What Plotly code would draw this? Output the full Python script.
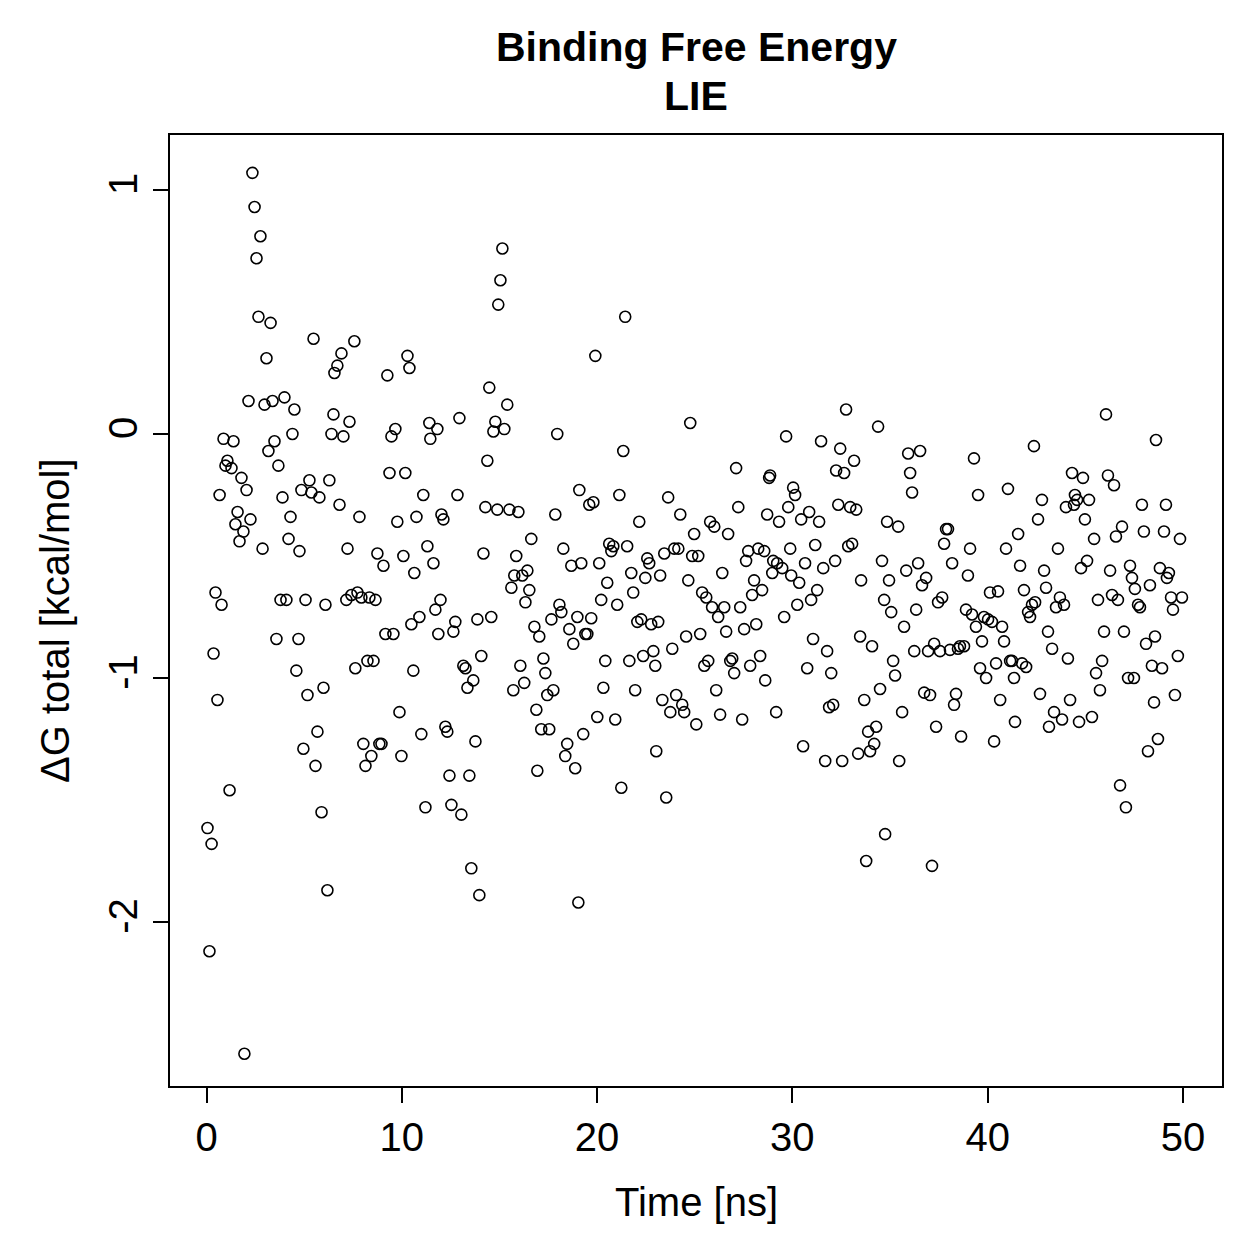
import plotly.graph_objects as go

time_ns = [0.05,0.15,0.26,0.36,0.46,0.56,0.67,0.77,0.87,0.97,1.07,1.18,1.28,1.38,1.48,1.59,1.69,1.79,1.89,1.94,
2.05,2.15,2.25,2.35,2.46,2.56,2.66,2.76,2.87,2.97,3.07,3.17,3.28,3.38,3.48,3.58,3.68,3.79,3.89,3.99,
4.09,4.20,4.30,4.40,4.50,4.60,4.71,4.76,4.86,4.96,5.07,5.17,5.27,5.37,5.48,5.58,5.68,5.78,5.89,5.99,
6.09,6.19,6.29,6.40,6.50,6.55,6.70,6.81,6.91,7.01,7.16,7.22,7.32,7.42,7.57,7.62,7.73,7.83,7.93,8.03,
8.14,8.24,8.34,8.44,8.55,8.65,8.75,8.85,8.96,9.06,9.16,9.26,9.37,9.47,9.57,9.67,9.77,9.88,9.98,10.08,
10.18,10.29,10.39,10.49,10.59,10.64,10.75,10.90,11.00,11.10,11.21,11.31,11.41,11.46,11.62,11.72,11.82,11.87,11.98,12.03,
12.13,12.23,12.33,12.44,12.54,12.64,12.74,12.85,12.95,13.05,13.15,13.26,13.36,13.46,13.56,13.66,13.77,13.87,13.97,14.07,
14.18,14.28,14.38,14.48,14.58,14.69,14.79,14.89,14.94,15.05,15.15,15.25,15.40,15.51,15.61,15.71,15.76,15.86,15.97,16.07,
16.17,16.27,16.33,16.43,16.53,16.63,16.79,16.89,16.94,17.04,17.14,17.25,17.35,17.45,17.55,17.66,17.76,17.86,17.96,18.07,
18.17,18.27,18.37,18.47,18.58,18.68,18.78,18.88,18.99,19.09,19.04,19.19,19.29,19.40,19.50,19.60,19.70,19.81,19.91,20.01,
20.11,20.21,20.32,20.42,20.52,20.62,20.73,20.83,20.93,21.03,21.14,21.24,21.34,21.44,21.54,21.65,21.75,21.85,21.95,22.06,
22.16,22.26,22.36,22.47,22.57,22.67,22.77,22.88,22.98,23.03,23.13,23.23,23.34,23.44,23.54,23.64,23.75,23.85,23.95,24.05,
24.16,24.26,24.36,24.46,24.56,24.67,24.77,24.87,24.97,25.08,25.18,25.28,25.38,25.49,25.59,25.69,25.79,25.89,26.00,26.10,
26.20,26.30,26.41,26.51,26.61,26.71,26.82,26.92,27.02,27.12,27.23,27.33,27.43,27.53,27.63,27.74,27.84,27.94,28.04,28.15,
28.25,28.35,28.45,28.56,28.61,28.71,28.81,28.86,28.97,29.02,29.17,29.22,29.32,29.48,29.58,29.68,29.79,29.89,29.94,30.04,
30.14,30.25,30.35,30.45,30.55,30.65,30.76,30.86,30.96,31.06,31.17,31.27,31.37,31.47,31.58,31.68,31.78,31.88,31.99,32.09,
32.19,32.24,32.35,32.45,32.55,32.65,32.75,32.86,32.96,33.06,33.16,33.27,33.37,33.47,33.52,33.68,33.78,33.88,33.98,34.08,
34.19,34.29,34.39,34.49,34.59,34.70,34.75,34.85,34.95,35.06,35.16,35.26,35.42,35.47,35.62,35.72,35.83,35.93,36.03,36.13,
36.24,36.34,36.44,36.54,36.64,36.75,36.85,36.95,37.05,37.15,37.26,37.36,37.46,37.56,37.67,37.77,37.87,37.97,38.07,38.18,
38.28,38.38,38.48,38.58,38.64,38.79,38.89,38.99,39.10,39.20,39.30,39.40,39.51,39.61,39.71,39.81,39.92,40.02,40.12,40.22,
40.33,40.43,40.53,40.64,40.74,40.84,40.94,41.04,41.15,41.25,41.35,41.40,41.56,41.66,41.76,41.86,41.97,42.07,42.17,42.27,
42.37,42.43,42.58,42.68,42.78,42.89,42.99,43.09,43.14,43.30,43.40,43.50,43.60,43.70,43.81,43.91,44.01,44.11,44.22,44.32,
44.42,44.47,44.58,44.68,44.78,44.88,44.98,45.09,45.19,45.34,45.45,45.55,45.65,45.75,45.86,45.96,46.06,46.16,46.27,46.37,
46.47,46.57,46.67,46.78,46.88,46.98,47.08,47.19,47.29,47.39,47.49,47.54,47.70,47.80,47.90,48.00,48.11,48.21,48.31,48.41,
48.52,48.57,48.62,48.72,48.82,48.93,49.03,49.13,49.18,49.28,49.39,49.49,49.59,49.74,49.85,49.95]

dg_total = [-1.615,-2.12,-1.68,-0.90,-0.65,-1.09,-0.25,-0.70,-0.02,-0.13,-0.11,-1.46,-0.14,-0.03,-0.37,-0.32,-0.44,-0.18,-0.40,-2.54,
-0.23,0.135,-0.35,1.07,0.93,0.72,0.48,0.81,-0.47,0.12,0.31,-0.07,0.455,0.135,-0.03,-0.84,-0.13,-0.68,-0.26,0.15,
-0.68,-0.43,-0.34,0.0,0.10,-0.97,-0.84,-0.48,-0.23,-1.29,-0.68,-1.07,-0.19,-0.24,0.39,-1.36,-1.22,-0.26,-1.55,-1.04,
-0.70,-1.87,-0.19,0.0,0.08,0.25,0.28,-0.29,0.33,-0.01,-0.68,-0.47,0.05,-0.66,0.38,-0.96,-0.65,-0.34,-0.67,-1.27,
-1.36,-0.93,-0.67,-1.32,-0.93,-0.68,-0.49,-1.27,-1.27,-0.54,-0.82,0.24,-0.16,-0.01,-0.82,0.02,-0.36,-1.14,-1.32,-0.50,
-0.16,0.32,0.27,-0.78,-0.97,-0.57,-0.34,-0.75,-1.23,-0.25,-1.53,-0.46,0.045,-0.02,-0.53,-0.72,0.02,-0.82,-0.68,-0.33,
-0.35,-1.20,-1.22,-1.40,-1.52,-0.81,-0.77,-0.25,0.065,-1.56,-0.95,-0.96,-1.04,-1.40,-1.78,-1.01,-1.26,-0.76,-1.89,-0.91,
-0.49,-0.30,-0.11,0.19,-0.75,0.01,0.05,-0.31,0.53,0.63,0.76,0.02,0.12,-0.31,-0.63,-1.05,-0.58,-0.50,-0.32,-0.95,
-0.58,-1.02,-0.69,-0.56,-0.64,-0.43,-0.79,-1.13,-1.38,-0.83,-1.21,-0.92,-0.98,-1.07,-1.21,-0.76,-1.05,-0.33,0.0,-0.70,
-0.73,-0.47,-1.32,-1.27,-0.80,-0.54,-0.86,-1.37,-0.75,-0.23,-1.92,-0.53,-1.23,-0.82,-0.82,-0.29,-0.755,-0.28,0.32,-1.16,
-0.53,-0.68,-1.04,-0.93,-0.61,-0.45,-0.48,-0.46,-1.17,-0.70,-0.25,-1.45,-0.07,0.48,-0.46,-0.93,-0.57,-0.65,-1.05,-0.77,
-0.36,-0.76,-0.91,-0.59,-0.51,-0.53,-0.78,-0.89,-0.95,-1.30,-0.77,-0.58,-1.09,-0.49,-1.49,-0.26,-1.14,-0.88,-0.47,-1.07,
-0.47,-0.33,-1.11,-1.14,-0.83,-0.60,0.045,-0.50,-0.41,-1.19,-0.50,-0.82,-0.65,-0.95,-0.67,-0.93,-0.36,-0.71,-0.38,-1.05,
-0.75,-1.15,-0.57,-0.71,-0.81,-0.41,-0.93,-0.92,-0.98,-0.14,-0.30,-0.71,-1.17,-0.80,-0.52,-0.48,-0.95,-0.66,-0.60,-0.78,
-0.47,-0.91,-0.64,-0.48,-1.01,-0.33,-0.18,-0.17,-0.57,-0.52,-1.14,-0.53,-0.36,-0.55,-0.75,-0.01,-0.30,-0.47,-0.58,-0.22,
-0.25,-0.70,-0.61,-0.35,-1.28,-0.53,-0.96,-0.32,-0.68,-0.84,-0.455,-0.64,-0.36,-0.03,-0.55,-1.34,-0.89,-1.12,-0.98,-1.11,
-0.52,-0.15,-0.29,-0.06,-1.34,-0.16,0.10,-0.46,-0.30,-0.45,-0.11,-0.31,-1.31,-0.83,-0.60,-1.09,-1.75,-1.22,-1.30,-0.87,
-1.27,-1.20,0.03,-1.045,-0.52,-0.68,-1.64,-0.36,-0.60,-0.73,-0.93,-0.99,-0.38,-1.34,-1.14,-0.79,-0.56,-0.08,-0.16,-0.24,
-0.89,-0.72,-0.53,-0.07,-0.62,-1.06,-0.59,-0.89,-1.07,-1.77,-0.86,-1.20,-0.69,-0.89,-0.67,-0.45,-0.39,-0.39,-0.885,-0.53,
-1.11,-1.065,-0.88,-0.87,-1.24,-0.87,-0.72,-0.58,-0.47,-0.74,-0.10,-0.79,-0.25,-0.96,-0.85,-0.75,-1.00,-0.76,-0.65,-0.77,
-1.26,-0.94,-0.645,-1.09,-0.79,-0.85,-0.47,-0.225,-0.93,-0.93,-1.00,-1.18,-0.41,-0.54,-0.94,-0.64,-0.955,-0.73,-0.75,-0.70,
-0.05,-0.69,-0.35,-1.065,-0.27,-0.56,-0.63,-0.81,-1.20,-0.88,-1.14,-0.71,-0.47,-0.67,-1.17,-0.70,-0.30,-0.92,-1.09,-0.16,
-0.29,-0.25,-0.27,-1.18,-0.55,-0.18,-0.35,-0.52,-0.27,-1.16,-0.43,-0.98,-0.68,-1.05,-0.93,-0.81,0.08,-0.17,-0.56,-0.66,
-0.21,-0.42,-0.68,-1.44,-0.38,-0.81,-1.53,-1.00,-0.54,-0.59,-1.00,-0.635,-0.70,-0.71,-0.29,-0.40,-0.86,-1.30,-0.62,-0.95,
-1.10,-0.83,-0.025,-1.25,-0.55,-0.96,-0.40,-0.29,-0.59,-0.57,-0.67,-0.72,-1.07,-0.91,-0.43,-0.67]

x_ticks = [0, 10, 20, 30, 40, 50]
y_ticks = [-2, -1, 0, 1]
y_tick_labels = ["-2", "-1", "0", "1"]

FONT = "Liberation Sans, Arial, Helvetica, sans-serif"

fig = go.Figure()
fig.add_trace(go.Scatter(
    x=time_ns, y=dg_total, mode="markers",
    marker=dict(symbol="circle-open", size=11, color="black", line=dict(width=1.6, color="black")),
    showlegend=False, hoverinfo="x+y"))

axis_common = dict(showgrid=False, zeroline=False, showline=True, linecolor="black", linewidth=2,
                   mirror=True, ticks="outside", ticklen=15, tickwidth=2, tickcolor="black",
                   tickfont=dict(family=FONT, size=40, color="black"))

fig.update_layout(
    width=1259, height=1259,
    margin=dict(l=170, r=37, t=135, b=173),
    paper_bgcolor="white", plot_bgcolor="white",
    xaxis=dict(range=[-1.87, 52.0], tickvals=x_ticks, **axis_common),
    yaxis=dict(range=[-2.672, 1.225], tickvals=y_ticks, ticktext=y_tick_labels, tickangle=-90, **axis_common),
    annotations=[
        dict(text="<b>Binding Free Energy</b>", xref="paper", yref="paper",
             x=(696 - 170) / 1052, y=(1086 - 47) / 951, showarrow=False,
             font=dict(family=FONT, size=41, color="black"), xanchor="center", yanchor="middle"),
        dict(text="<b>LIE</b>", xref="paper", yref="paper",
             x=(696 - 170) / 1052, y=(1086 - 96) / 951, showarrow=False,
             font=dict(family=FONT, size=41, color="black"), xanchor="center", yanchor="middle"),
        dict(text="Time [ns]", xref="paper", yref="paper",
             x=(696 - 170) / 1052, y=(1086 - 1202) / 951, showarrow=False,
             font=dict(family=FONT, size=40, color="black"), xanchor="center", yanchor="middle"),
        dict(text="ΔG total [kcal/mol]", xref="paper", yref="paper",
             x=(55 - 170) / 1052, y=(1086 - 621) / 951, showarrow=False, textangle=-90,
             font=dict(family=FONT, size=40, color="black"), xanchor="center", yanchor="middle"),
    ],
)

fig.write_html("out.html")
